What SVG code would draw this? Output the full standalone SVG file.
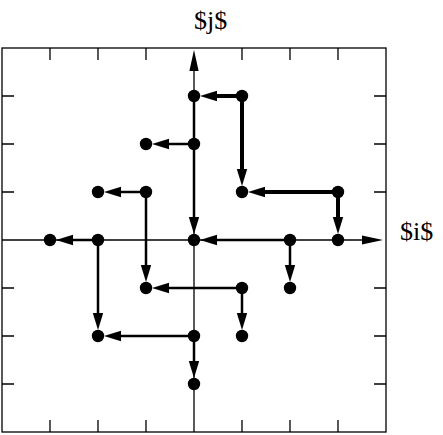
<svg xmlns="http://www.w3.org/2000/svg" width="443" height="435" viewBox="0 0 443 435">
<style>
.frame{fill:none;stroke:#000;stroke-width:1.3}
.tick{stroke:#000;stroke-width:1.3}
.axis{stroke:#000;stroke-width:1.3;fill:none}
.e{stroke:#000;stroke-width:2.5;fill:none;marker-end:url(#ah)}
.t{stroke:#000;stroke-width:4;fill:none;marker-end:url(#ah)}
.n{fill:#000}
.lbl{font-family:"Liberation Serif","Times New Roman",serif;font-size:26px;fill:#000}
</style>
<defs>
<marker id="ah" markerUnits="userSpaceOnUse" markerWidth="20" markerHeight="12" viewBox="-1 -6 19 12" refX="0" refY="0" orient="auto" overflow="visible">
<path d="M-1,-5.2 L16,0 L-1,5.2 z" fill="#000"/>
</marker>
<marker id="axh" markerUnits="userSpaceOnUse" markerWidth="22" markerHeight="12" viewBox="-1 -6 22 12" refX="0" refY="0" orient="auto" overflow="visible">
<path d="M-1,-4.6 L20,0 L-1,4.6 z" fill="#000"/>
</marker>
</defs>
<g id="frame">
<rect class="frame" x="2" y="48" width="384" height="384"/>
<path class="tick" d="M50,48v12M98,48v12M146,48v12M242,48v12M290,48v12M338,48v12
M50,432v-12M98,432v-12M146,432v-12M242,432v-12M290,432v-12M338,432v-12
M2,96h12M2,144h12M2,192h12M2,288h12M2,336h12M2,384h12
M386,96h-12M386,144h-12M386,192h-12M386,288h-12M386,336h-12M386,384h-12"/>
</g>
<g id="axes">
<line class="axis" x1="2" y1="240" x2="363" y2="240" marker-end="url(#axh)"/>
<line class="axis" x1="194" y1="432" x2="194" y2="70" marker-end="url(#axh)"/>
<text class="lbl" x="194" y="29">$j$</text>
<text class="lbl" x="400" y="240">$i$</text>
</g>
<g id="connectors">
<line class="t" x1="242" y1="96" x2="216" y2="96"/>
<line class="t" x1="242" y1="96" x2="242" y2="170"/>
<line class="t" x1="338" y1="192" x2="264" y2="192"/>
<line class="t" x1="338" y1="192" x2="338" y2="218"/>
<line class="e" x1="194" y1="96" x2="194" y2="218"/>
<line class="e" x1="194" y1="144" x2="168" y2="144"/>
<line class="e" x1="146" y1="192" x2="120" y2="192"/>
<line class="e" x1="146" y1="192" x2="146" y2="266"/>
<line class="e" x1="290" y1="240" x2="216" y2="240"/>
<line class="e" x1="290" y1="240" x2="290" y2="266"/>
<line class="e" x1="98" y1="240" x2="72" y2="240"/>
<line class="e" x1="98" y1="240" x2="98" y2="314"/>
<line class="e" x1="242" y1="288" x2="168" y2="288"/>
<line class="e" x1="242" y1="288" x2="242" y2="314"/>
<line class="e" x1="194" y1="336" x2="120" y2="336"/>
<line class="e" x1="194" y1="336" x2="194" y2="362"/>
</g>
<g id="n_0_3"><circle class="n" cx="194" cy="96" r="6.2"/></g>
<g id="n_1_3"><circle class="n" cx="242" cy="96" r="6.2"/></g>
<g id="n_0_2"><circle class="n" cx="194" cy="144" r="6.2"/></g>
<g id="n_m1_2"><circle class="n" cx="146" cy="144" r="6.2"/></g>
<g id="n_m1_1"><circle class="n" cx="146" cy="192" r="6.2"/></g>
<g id="n_m2_1"><circle class="n" cx="98" cy="192" r="6.2"/></g>
<g id="n_1_1"><circle class="n" cx="242" cy="192" r="6.2"/></g>
<g id="n_3_1"><circle class="n" cx="338" cy="192" r="6.2"/></g>
<g id="n_m3_0"><circle class="n" cx="50" cy="240" r="6.2"/></g>
<g id="n_m2_0"><circle class="n" cx="98" cy="240" r="6.2"/></g>
<g id="n_0_0"><circle class="n" cx="194" cy="240" r="6.2"/></g>
<g id="n_2_0"><circle class="n" cx="290" cy="240" r="6.2"/></g>
<g id="n_3_0"><circle class="n" cx="338" cy="240" r="6.2"/></g>
<g id="n_m1_m1"><circle class="n" cx="146" cy="288" r="6.2"/></g>
<g id="n_1_m1"><circle class="n" cx="242" cy="288" r="6.2"/></g>
<g id="n_2_m1"><circle class="n" cx="290" cy="288" r="6.2"/></g>
<g id="n_m2_m2"><circle class="n" cx="98" cy="336" r="6.2"/></g>
<g id="n_0_m2"><circle class="n" cx="194" cy="336" r="6.2"/></g>
<g id="n_1_m2"><circle class="n" cx="242" cy="336" r="6.2"/></g>
<g id="n_0_m3"><circle class="n" cx="194" cy="384" r="6.2"/></g>
</svg>
